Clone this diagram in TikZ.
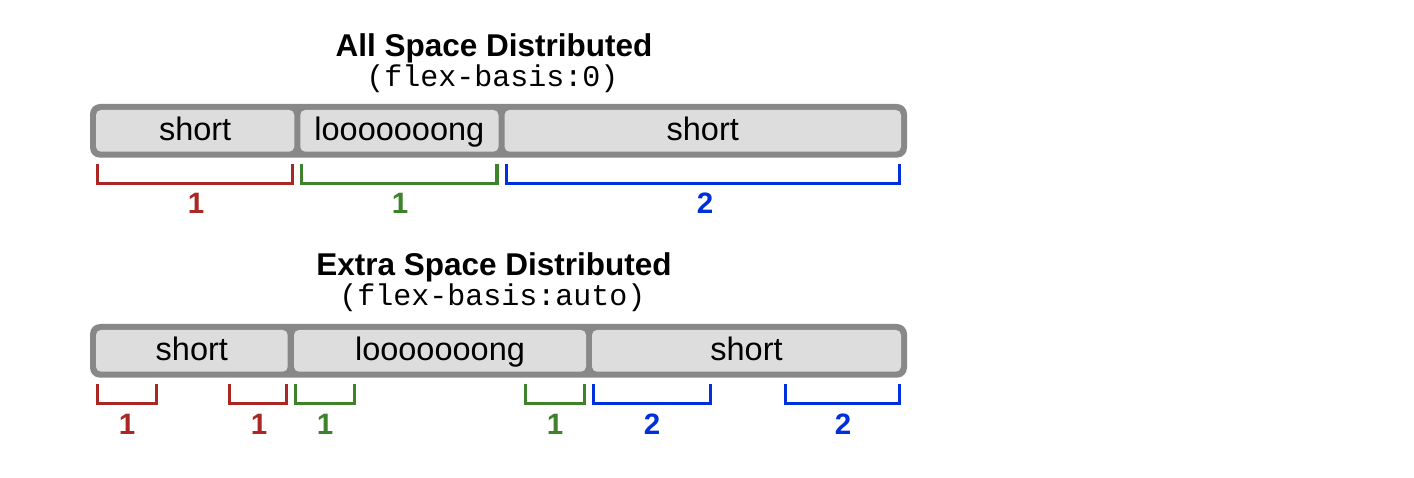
\documentclass[tikz,border=0pt]{standalone}
\usepackage{fontspec}
\setmainfont{Liberation Sans}
\setmonofont{Liberation Mono}
\definecolor{framegray}{RGB}{136,136,136}
\definecolor{itemgray}{RGB}{221,221,221}
\definecolor{bred}{RGB}{170,40,36}
\definecolor{bgreen}{RGB}{62,130,44}
\definecolor{bblue}{RGB}{0,48,220}
\tikzset{
  frame/.style={fill=framegray, rounded corners=10pt, inner sep=0pt, minimum width=817pt, minimum height=53.7pt},
  item/.style={fill=itemgray, rounded corners=5pt, inner sep=0pt, minimum height=41.7pt,
    text height=25pt, text depth=5pt, font=\fontsize{32.5}{38}\selectfont},
  title/.style={font=\bfseries\fontsize{31.5}{38}\selectfont, anchor=base, inner sep=0pt, text depth=0pt},
  code/.style={font=\ttfamily\fontsize{30}{36}\selectfont, anchor=base, inner sep=0pt, text height=19pt},
  bracket/.style={line width=3.2pt},
  num/.style={font=\bfseries\fontsize{29.5}{35}\selectfont, anchor=base, inner sep=0pt},
}
\begin{document}
\begin{tikzpicture}[x=1pt,y=-1pt]
\useasboundingbox[fill=white] (0,0) rectangle (1414,478);

% ---------- All Space Distributed ----------
\node[title] (t1) at (494,57) {All Space Distributed};
\node[code] (c1) at (492.5,87) {(flex-basis:0)};
\node[frame] (fa) at (498.5,130.85) {};
\node[item, minimum width=198.25pt] (a1) at (195.125,130.85) {short};
\node[item, minimum width=198.25pt] (a2) at (399.375,130.85) {looooooong};
\node[item, minimum width=396.5pt] (a3) at (702.75,130.85) {short};

\draw[bracket, bred]   (97.6,164) -- (97.6,183.4) -- (292.4,183.4) -- (292.4,164);
\draw[bracket, bgreen] (301.8,164) -- (301.8,183.4) -- (496.9,183.4) -- (496.9,164);
\draw[bracket, bblue]  (506.1,164) -- (506.1,183.4) -- (899.4,183.4) -- (899.4,164);
\node[num, bred]   (na1) at (196,214) {1};
\node[num, bgreen] (na2) at (400,214) {1};
\node[num, bblue]  (na3) at (705,214) {2};

% ---------- Extra Space Distributed ----------
\node[title] (t2) at (494,276) {Extra Space Distributed};
\node[code] (c2) at (492.5,305.5) {(flex-basis:auto)};
\node[frame] (fb) at (498.5,350.85) {};
\node[item, minimum width=191.7pt] (b1) at (191.85,350.85) {short};
\node[item, minimum width=292pt] (b2) at (440,350.85) {looooooong};
\node[item, minimum width=309pt] (b3) at (746.5,350.85) {short};

\draw[bracket, bred]   (97.6,384) -- (97.6,403.4) -- (156.1,403.4) -- (156.1,384);
\draw[bracket, bred]   (229.6,384) -- (229.6,403.4) -- (286.1,403.4) -- (286.1,384);
\draw[bracket, bgreen] (295.6,384) -- (295.6,403.4) -- (354.1,403.4) -- (354.1,384);
\draw[bracket, bgreen] (525.6,384) -- (525.6,403.4) -- (584.4,403.4) -- (584.4,384);
\draw[bracket, bblue]  (593.6,384) -- (593.6,403.4) -- (710.1,403.4) -- (710.1,384);
\draw[bracket, bblue]  (785.6,384) -- (785.6,403.4) -- (899.4,403.4) -- (899.4,384);
\node[num, bred]   (nb1) at (127,434) {1};
\node[num, bred]   (nb2) at (259,434) {1};
\node[num, bgreen] (nb3) at (325,434) {1};
\node[num, bgreen] (nb4) at (555,434) {1};
\node[num, bblue]  (nb5) at (652,434) {2};
\node[num, bblue]  (nb6) at (843,434) {2};
\end{tikzpicture}
\end{document}
